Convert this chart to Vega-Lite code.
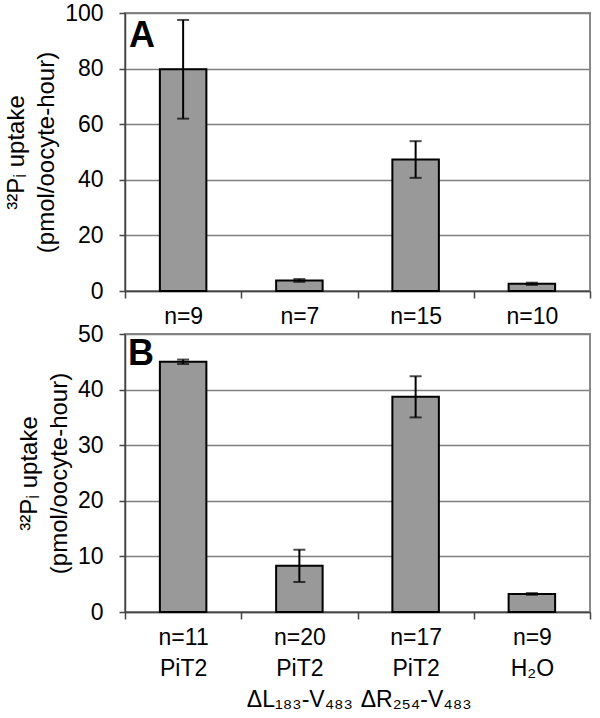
{
  "$schema": "https://vega.github.io/schema/vega-lite/v6.json",
  "padding": {"left": 3, "top": 1, "right": 5, "bottom": 5},
  "background": "white",
  "config": {
    "font": "Liberation Sans",
    "view": {"stroke": "#8a8a8a", "strokeWidth": 2},
    "axis": {
      "labelFont": "Liberation Sans",
      "titleFont": "Liberation Sans",
      "labelColor": "black",
      "titleColor": "black",
      "labelFontSize": 23,
      "titleFontSize": 24,
      "titleFontWeight": "normal",
      "domainColor": "#444",
      "domainWidth": 1.5,
      "tickColor": "#444",
      "tickWidth": 1.5,
      "gridColor": "#808080",
      "gridWidth": 1.5
    }
  },
  "vconcat": [
    {
      "width": 465,
      "height": 278,
      "data": {"values": [
        {"cat": "n=9", "v": 79.8, "lo": 62.0, "hi": 97.5},
        {"cat": "n=7", "v": 3.8, "lo": 3.3, "hi": 4.3},
        {"cat": "n=15", "v": 47.3, "lo": 40.7, "hi": 53.9},
        {"cat": "n=10", "v": 2.6, "lo": 2.2, "hi": 3.0}
      ]},
      "encoding": {
        "x": {"field": "cat", "type": "nominal", "sort": null,
          "scale": {"paddingInner": 0, "paddingOuter": 0},
          "axis": {"title": null, "labelAngle": 0, "tickBand": "extent", "tickSize": 7, "labelPadding": 7, "grid": false,
            "labelExpr": "datum.value ? datum.value : ''"}}
      },
      "layer": [
        {"mark": {"type": "bar", "fill": "#999999", "stroke": "black", "strokeWidth": 2, "width": {"band": 0.4}},
         "encoding": {"y": {"field": "v", "type": "quantitative", "scale": {"domain": [0, 100], "nice": false},
           "axis": {"values": [0, 20, 40, 60, 80, 100], "title": ["³²Pᵢ uptake", "(pmol/oocyte-hour)"], "titleLineHeight": 30, "titlePadding": 6, "tickSize": 6, "labelPadding": 16, "grid": true}}}},
        {"mark": {"type": "rule", "color": "black", "strokeWidth": 2},
         "encoding": {"y": {"field": "lo", "type": "quantitative"}, "y2": {"field": "hi"}}},
        {"mark": {"type": "tick", "color": "black", "thickness": 2, "size": 12},
         "encoding": {"y": {"field": "lo", "type": "quantitative"}}},
        {"mark": {"type": "tick", "color": "black", "thickness": 2, "size": 12},
         "encoding": {"y": {"field": "hi", "type": "quantitative"}}},
        {"data": {"values": [{"p": "A"}]},
         "mark": {"type": "text", "align": "left", "baseline": "top", "dx": 4, "dy": 6, "fontSize": 36, "fontWeight": "bold", "color": "black"},
         "encoding": {"x": {"datum": "n=9", "bandPosition": 0}, "y": {"datum": 100, "type": "quantitative"}, "text": {"field": "p"}}}
      ]
    },
    {
      "width": 465,
      "height": 278,
      "data": {"values": [
        {"cat": "n=11|PiT2", "v": 45.0, "lo": 44.6, "hi": 45.4},
        {"cat": "n=20|PiT2|ΔL₁₈₃-V₄₈₃", "v": 8.3, "lo": 5.4, "hi": 11.2},
        {"cat": "n=17|PiT2|ΔR₂₅₄-V₄₈₃", "v": 38.7, "lo": 35.0, "hi": 42.4},
        {"cat": "n=9|H₂O", "v": 3.25, "lo": 3.1, "hi": 3.4}
      ]},
      "encoding": {
        "x": {"field": "cat", "type": "nominal", "sort": null,
          "scale": {"paddingInner": 0, "paddingOuter": 0},
          "axis": {"title": null, "labelAngle": 0, "tickBand": "extent", "tickSize": 7, "labelPadding": 7, "grid": false,
            "labelExpr": "datum.value ? split(datum.value, '|') : ''", "labelLineHeight": 31}}
      },
      "layer": [
        {"mark": {"type": "bar", "fill": "#999999", "stroke": "black", "strokeWidth": 2, "width": {"band": 0.4}},
         "encoding": {"y": {"field": "v", "type": "quantitative", "scale": {"domain": [0, 50], "nice": false},
           "axis": {"values": [0, 10, 20, 30, 40, 50], "title": ["³²Pᵢ uptake", "(pmol/oocyte-hour)"], "titleLineHeight": 30, "titlePadding": 6, "tickSize": 6, "labelPadding": 16, "grid": true}}}},
        {"mark": {"type": "rule", "color": "black", "strokeWidth": 2},
         "encoding": {"y": {"field": "lo", "type": "quantitative"}, "y2": {"field": "hi"}}},
        {"mark": {"type": "tick", "color": "black", "thickness": 2, "size": 12},
         "encoding": {"y": {"field": "lo", "type": "quantitative"}}},
        {"mark": {"type": "tick", "color": "black", "thickness": 2, "size": 12},
         "encoding": {"y": {"field": "hi", "type": "quantitative"}}},
        {"data": {"values": [{"p": "B"}]},
         "mark": {"type": "text", "align": "left", "baseline": "top", "dx": 3, "dy": 3, "fontSize": 36, "fontWeight": "bold", "color": "black"},
         "encoding": {"x": {"datum": "n=11|PiT2", "bandPosition": 0}, "y": {"datum": 50, "type": "quantitative"}, "text": {"field": "p"}}}
      ]
    }
  ],
  "bounds": "flush",
  "spacing": 43
}
